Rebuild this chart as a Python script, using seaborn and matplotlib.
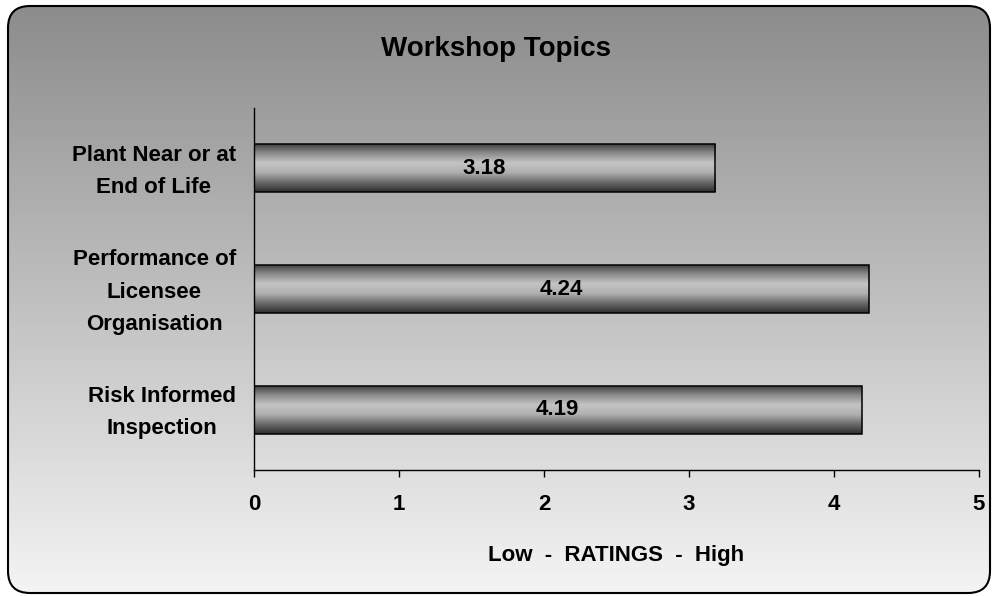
import numpy as np
import pandas as pd
import seaborn as sns
import matplotlib.pyplot as plt
import matplotlib.transforms as mtransforms
from matplotlib.patches import FancyBboxPatch
from matplotlib.colors import LinearSegmentedColormap

topics = ['Plant Near or at\nEnd of Life', 'Performance of\nLicensee\nOrganisation', 'Risk Informed\nInspection']
ratings = [3.18, 4.24, 4.19]

sns.set_theme(style="white")
plt.rcParams['font.family'] = ['Liberation Sans', 'DejaVu Sans']
plt.rcParams['font.weight'] = 'bold'
plt.rcParams['text.color'] = 'black'
plt.rcParams['axes.labelcolor'] = 'black'
plt.rcParams['xtick.color'] = 'black'
plt.rcParams['ytick.color'] = 'black'

fig = plt.figure(figsize=(9.92, 5.96), dpi=100)
fig.patch.set_facecolor('white')

# background panel with vertical grey gradient and rounded border
bg = fig.add_axes([0, 0, 1, 1], zorder=0)
bg.set_xlim(0, 992)
bg.set_ylim(596, 0)
bg.axis('off')
grad = np.linspace(0, 1, 256).reshape(-1, 1)
bg_cmap = LinearSegmentedColormap.from_list('bg', ['#8c8c8c', '#f4f4f4'])
img = bg.imshow(grad, extent=[8, 990, 593, 6], aspect='auto', cmap=bg_cmap)
box = FancyBboxPatch((8, 6), 982, 587, boxstyle="round,pad=0,rounding_size=22",
                     facecolor='none', edgecolor='black', linewidth=1.5)
bg.add_patch(box)
img.set_clip_path(box)

ax = fig.add_axes([254 / 992, 1 - 470 / 596, 725 / 992, 362 / 596], zorder=1)
ax.patch.set_alpha(0)

df = pd.DataFrame({'topic': topics, 'rating': ratings})
sns.barplot(data=df, x='rating', y='topic', orient='h', width=0.4,
            color='#909090', edgecolor='black', linewidth=1.1, ax=ax)

bar_cmap = LinearSegmentedColormap.from_list(
    'bar', ['#3a3a3a', '#8a8a8a', '#c4c4c4', '#b0b0b0', '#6a6a6a', '#2e2e2e'])
for p, v in zip(ax.patches, ratings):
    x0, y0 = p.get_x(), p.get_y()
    w, h = p.get_width(), p.get_height()
    im = ax.imshow(grad, extent=[x0, x0 + w, y0 + h, y0], aspect='auto',
                   cmap=bar_cmap, zorder=p.get_zorder() - 0.1)
    im.set_clip_path(p)
    p.set_facecolor('none')
    ax.text(x0 + w / 2, y0 + h / 2, f'{v:.2f}', ha='center', va='center',
            fontsize=16, fontweight='bold', color='black', zorder=5)

ax.set_xlim(0, 5)
ax.set_ylim(2.5, -0.5)
ax.set_xticks([0, 1, 2, 3, 4, 5])
ax.tick_params(axis='x', length=5, width=1, color='black', pad=12,
               labelsize=16, direction='out', bottom=True)
ax.tick_params(axis='y', length=0, pad=13, labelsize=16)
shift_up = mtransforms.ScaledTranslation(0, 5 / 100, fig.dpi_scale_trans)
for lab in ax.get_yticklabels():
    lab.set_multialignment('center')
    lab.set_linespacing(1.7)
    lab.set_fontweight('bold')
    lab.set_transform(lab.get_transform() + shift_up)
for lab in ax.get_xticklabels():
    lab.set_fontweight('bold')
for s in ['top', 'right']:
    ax.spines[s].set_visible(False)
for s in ['left', 'bottom']:
    ax.spines[s].set_color('black')
    ax.spines[s].set_linewidth(1)
ax.set_xlabel('Low  -  RATINGS  -  High', fontsize=16, fontweight='bold', labelpad=22)
ax.set_ylabel('')

fig.text(0.5, 1 - 49 / 596, 'Workshop Topics', ha='center', va='center',
         fontsize=20, fontweight='bold')

fig.savefig('out.png', dpi=100)
